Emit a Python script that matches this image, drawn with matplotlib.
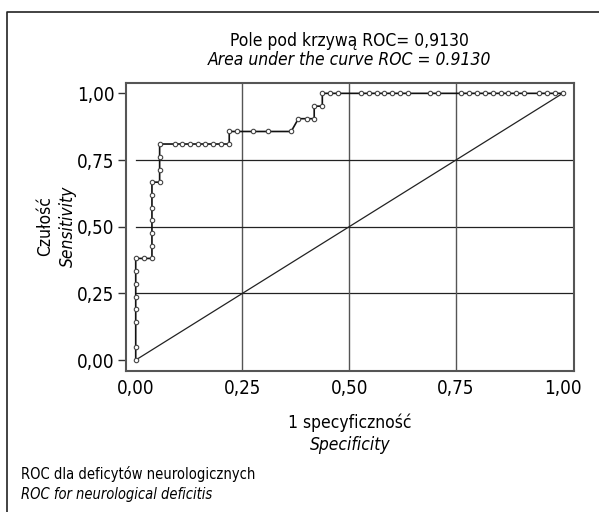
import matplotlib
matplotlib.use("Agg")
import matplotlib.pyplot as plt
from matplotlib.lines import Line2D

plt.rcParams['font.family'] = ['DejaVu Sans']
plt.rcParams['font.stretch'] = 'condensed'

# ROC curve points (1 - specificity, sensitivity)
fpr = [0, 0, 0, 0, 0, 0, 0, 0,
       0.019, 0.038,
       0.038, 0.038, 0.038, 0.038, 0.038, 0.038,
       0.056, 0.056, 0.056, 0.056,
       0.091, 0.109, 0.127, 0.145, 0.163, 0.182, 0.200, 0.219,
       0.219, 0.237, 0.274, 0.310, 0.364,
       0.381, 0.400, 0.418,
       0.418, 0.437,
       0.437, 0.455, 0.474, 0.527, 0.546, 0.564, 0.582, 0.601, 0.619, 0.638,
       0.690, 0.709, 0.762, 0.780, 0.799, 0.817, 0.836, 0.855, 0.873, 0.891,
       0.909, 0.945, 0.964, 0.983, 1.0]
tpr = [0, 0.048, 0.143, 0.190, 0.238, 0.286, 0.333, 0.381,
       0.381, 0.381,
       0.429, 0.476, 0.524, 0.571, 0.619, 0.667,
       0.667, 0.714, 0.762, 0.810,
       0.810, 0.810, 0.810, 0.810, 0.810, 0.810, 0.810, 0.810,
       0.857, 0.857, 0.857, 0.857, 0.857,
       0.905, 0.905, 0.905,
       0.952, 0.952,
       1.0, 1.0, 1.0, 1.0, 1.0, 1.0, 1.0, 1.0, 1.0, 1.0,
       1.0, 1.0, 1.0, 1.0, 1.0, 1.0, 1.0, 1.0, 1.0, 1.0,
       1.0, 1.0, 1.0, 1.0, 1.0]

ticks = [0, 0.25, 0.5, 0.75, 1.0]
tick_labels = ['0,00', '0,25', '0,50', '0,75', '1,00']

fig = plt.figure(figsize=(5.99, 5.12), dpi=100)
ax = fig.add_axes([0.2099, 0.2760, 0.7484, 0.5625])

# reference grid
for t in ticks[1:4]:
    ax.plot([t, t], [-0.05, 1.05], color='#555555', lw=1.0, zorder=1)
    ax.plot([0, 1.05], [t, t], color='#222222', lw=0.9, zorder=1)

ax.plot([0, 1], [0, 1], color='#222222', lw=0.9, zorder=2)
ax.plot(fpr, tpr, color='#111111', lw=1.2, marker='o', ms=3.2,
        mfc='white', mec='#444444', mew=0.8, zorder=3)

ax.set_xlim(-0.0234, 1.0265)
ax.set_ylim(-0.040, 1.040)
ax.set_xticks(ticks)
ax.set_xticklabels(tick_labels)
ax.set_yticks(ticks)
ax.set_yticklabels(tick_labels)
ax.tick_params(axis='x', length=0, pad=6, labelsize=13.5)
ax.tick_params(axis='y', length=6, width=1.0, pad=2, labelsize=13.5, color='#333333')
for s in ax.spines.values():
    s.set_color('#555555')
    s.set_linewidth(1.5)

fig.text(0.584, 1 - 41 / 512, 'Pole pod krzywą ROC= 0,9130', ha='center', va='center', fontsize=12.5)
fig.text(0.584, 1 - 60 / 512, 'Area under the curve ROC = 0.9130', ha='center', va='center',
         fontsize=12.5, style='italic')
fig.text(0.584, 1 - 423 / 512, '1 specyficzność', ha='center', va='center', fontsize=12.5)
fig.text(0.584, 1 - 445 / 512, 'Specificity', ha='center', va='center', fontsize=12.5, style='italic')
fig.text(45 / 599, 1 - 226 / 512, 'Czułość', ha='center', va='center', fontsize=12.5, rotation=90)
fig.text(68 / 599, 1 - 226 / 512, 'Sensitivity', ha='center', va='center', fontsize=12.5,
         rotation=90, style='italic')
fig.text(21 / 599, 1 - 474 / 512, 'ROC dla deficytów neurologicznych', ha='left', va='center', fontsize=10.5)
fig.text(21 / 599, 1 - 494 / 512, 'ROC for neurological deficitis', ha='left', va='center', fontsize=10.5,
         style='italic')

# outer frame (top and left edges visible)
fig.add_artist(Line2D([7 / 599, 7 / 599, 1.0], [0.0, 1 - 12 / 512, 1 - 12 / 512],
                      transform=fig.transFigure, color='#222222', lw=1.2))

fig.savefig('out.png', dpi=100)
